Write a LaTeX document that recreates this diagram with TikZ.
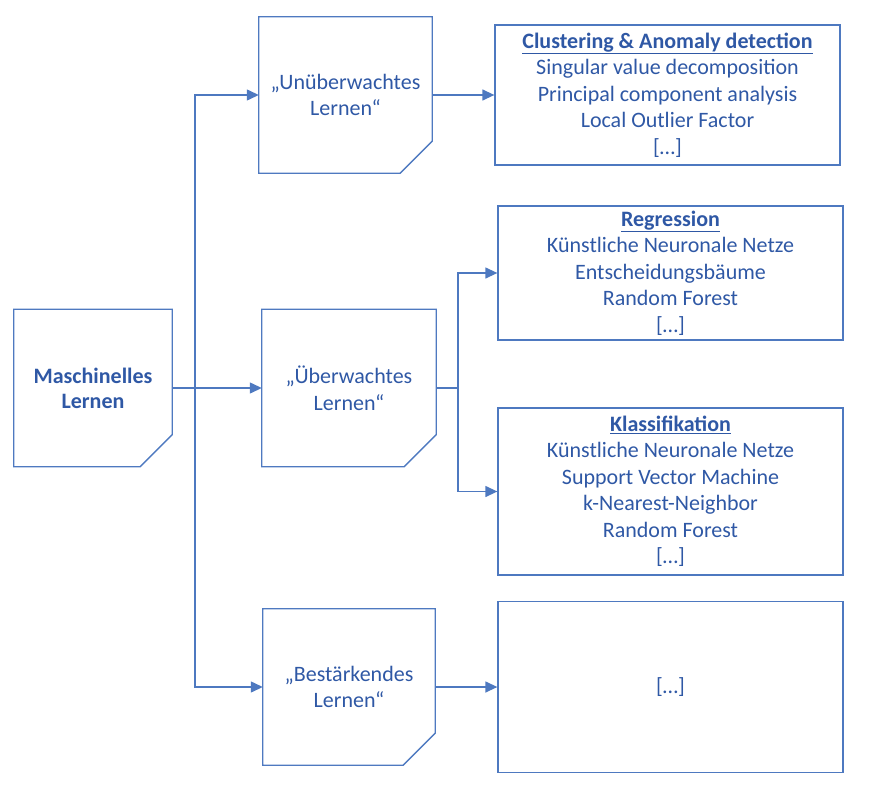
\documentclass[tikz,border=0pt]{standalone}
\usepackage{fontspec}
\setmainfont{Carlito}
\usetikzlibrary{arrows.meta}
\definecolor{bordercol}{RGB}{78,121,192}
\definecolor{textcol}{RGB}{47,88,165}
\tikzset{
  box/.style={draw=none, inner sep=0pt, align=center, text=textcol,
    font=\fontsize{22}{26.5}\selectfont},
  plainbox/.style={box, draw=bordercol, line width=1.3pt},
  outline/.style={draw=bordercol, line width=1.3pt},
  conn/.style={draw=bordercol, line width=1.3pt},
  arr/.style={conn, -{Triangle[length=12pt,width=11pt]}}
}
\begin{document}
\begin{tikzpicture}[x=1pt,y=-1pt]
\useasboundingbox (0,0) rectangle (869,800);
% cut-corner boxes
\node[box, minimum width=158pt, minimum height=157pt, font=\fontsize{22}{25}\selectfont\bfseries] (ml) at (93,388) {Maschinelles\\Lernen};
\node[box, minimum width=173pt, minimum height=156pt] (uu) at (345.5,95) {„Unüberwachtes\\Lernen“};
\node[box, minimum width=174pt, minimum height=157pt] (ue) at (349,388) {„Überwachtes\\Lernen“};
\node[box, minimum width=172pt, minimum height=156pt] (be) at (349,687) {„Bestärkendes\\Lernen“};
\foreach \n in {ml,uu,ue,be}
  \draw[outline] (\n.north west) -- (\n.north east) -- ([yshift=32pt]\n.south east)
    -- ([xshift=-32pt]\n.south east) -- (\n.south west) -- cycle;
% plain boxes
\node[plainbox, minimum width=345pt, minimum height=140pt] (cl) at (667.5,95)
  {\underline{\textbf{Clustering \& Anomaly detection}}\\Singular value decomposition\\Principal component analysis\\Local Outlier Factor\\{[…]}};
\node[plainbox, minimum width=345pt, minimum height=134pt] (rg) at (670.5,273)
  {\underline{\textbf{Regression}}\\Künstliche Neuronale Netze\\Entscheidungsbäume\\Random Forest\\{[…]}};
\node[plainbox, minimum width=345pt, minimum height=167pt] (kl) at (670.5,491.5)
  {\underline{\textbf{Klassifikation}}\\Künstliche Neuronale Netze\\Support Vector Machine\\k-Nearest-Neighbor\\Random Forest\\{[…]}};
\node[plainbox, minimum width=345pt, minimum height=171pt] (dt) at (670.5,687) {[…]};
% connectors
\coordinate (j1) at (195,388);
\coordinate (j2) at (458,388);
\draw[arr] (ml.east) -- (ue.west);
\draw[arr] (j1) |- (uu.west);
\draw[arr] (j1) |- (be.west);
\draw[arr] (uu.east) -- (uu.east -| cl.west);
\draw[conn] (ue.east) -- (j2);
\draw[arr] (j2) |- (rg.west);
\draw[arr] (j2) |- (kl.west);
\draw[arr] (be.east) -- (be.east -| dt.west);
\end{tikzpicture}
\end{document}
